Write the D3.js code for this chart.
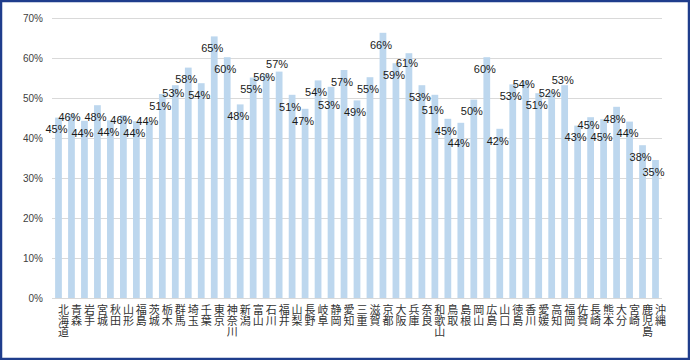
<!DOCTYPE html>
<html><head><meta charset="utf-8">
<script src="https://cdn.jsdelivr.net/npm/d3@7"></script>
<style>
html,body{margin:0;padding:0;background:#fff;}
svg{display:block;}
</style></head>
<body>
<svg id="chart" width="690" height="360"></svg>
<script>
const prefectures = ["北海道","青森","岩手","宮城","秋田","山形","福島","茨城","栃木","群馬","埼玉","千葉","東京","神奈川","新潟","富山","石川","福井","山梨","長野","岐阜","静岡","愛知","三重","滋賀","京都","大阪","兵庫","奈良","和歌山","鳥取","島根","岡山","広島","山口","徳島","香川","愛媛","高知","福岡","佐賀","長崎","熊本","大分","宮崎","鹿児島","沖縄"];
const rates = [45.1,46.0,44.3,48.2,44.4,45.7,44.2,44.2,51.0,53.2,57.6,53.7,65.4,60.2,48.4,55.1,55.9,56.6,50.8,47.3,54.4,52.8,57.0,49.4,55.2,66.3,58.7,61.2,53.2,50.8,44.8,43.8,49.6,60.2,42.3,53.4,54.3,51.2,51.6,53.2,43.1,45.2,44.7,47.8,44.1,38.2,34.5];
const yTicks = [0,10,20,30,40,50,60,70];

const svg = d3.select("#chart");
const W = 690, H = 360;
const plot = {left: 52, right: 662, top: 18, bottom: 298};

const x = d3.scaleBand().domain(prefectures).range([plot.left, plot.right]).paddingInner(0.48).paddingOuter(0.24);
const y = d3.scaleLinear().domain([0, 70]).range([plot.bottom, plot.top]);

// frame
svg.append("rect").attr("x",1).attr("y",1).attr("width",W-2).attr("height",H-2)
  .attr("fill","#fff").attr("stroke","#1f3d8c").attr("stroke-width",2.5);

// gridlines
svg.append("g").selectAll("line").data(yTicks).join("line")
  .attr("x1", plot.left).attr("x2", plot.right)
  .attr("y1", d => Math.round(y(d)) + 0.5).attr("y2", d => Math.round(y(d)) + 0.5)
  .attr("stroke", "#d9d9d9").attr("stroke-width", 1);

// y axis labels
const yAxis = d3.axisLeft(y).tickValues(yTicks).tickFormat(d => d + "%").tickSize(0).tickPadding(0);
const ya = svg.append("g").attr("transform", `translate(${plot.left - 9},0)`).call(yAxis);
ya.select(".domain").remove();
ya.selectAll("text").attr("font-family","'Liberation Sans', Arial, sans-serif").attr("font-size","10px").attr("fill","#404040");

// bars
svg.append("g").selectAll("rect").data(prefectures).join("rect")
  .attr("x", d => x(d)).attr("width", x.bandwidth())
  .attr("y", (d,i) => y(rates[i])).attr("height", (d,i) => y(0) - y(rates[i]))
  .attr("fill", "#bdd7ee");

// data labels with simple collision avoidance between neighbours
const labelGap = 12.5, baseDy = 12;
const labelY = [];
rates.forEach((v, i) => {
  const top = y(v);
  let c = top + baseDy;
  if (i > 0) {
    const prev = labelY[i-1];
    if (Math.abs(c - prev) < labelGap) {
      c = (top <= y(rates[i-1])) ? prev - labelGap : prev + labelGap;
    }
  }
  labelY.push(c);
});
svg.append("g").selectAll("text").data(prefectures).join("text")
  .attr("x", d => x(d) + x.bandwidth()/2 - 2)
  .attr("y", (d,i) => labelY[i])
  .attr("dy", "0.35em")
  .attr("text-anchor", "middle")
  .attr("font-family","'Liberation Sans', Arial, sans-serif").attr("font-size","11px").attr("fill","#1a1a1a")
  .text((d,i) => Math.round(rates[i]) + "%");

// category labels, vertical text (upright characters)
svg.append("g").selectAll("text").data(prefectures).join("text")
  .attr("x", d => x(d) + x.bandwidth()/2 + 5)
  .attr("y", plot.bottom + 6)
  .style("writing-mode", "vertical-rl")
  .style("text-orientation", "upright")
  .attr("font-family","'Noto Sans CJK JP', sans-serif").attr("font-size","11px").attr("fill","#333")
  .text(d => d);
</script>
</body></html>
